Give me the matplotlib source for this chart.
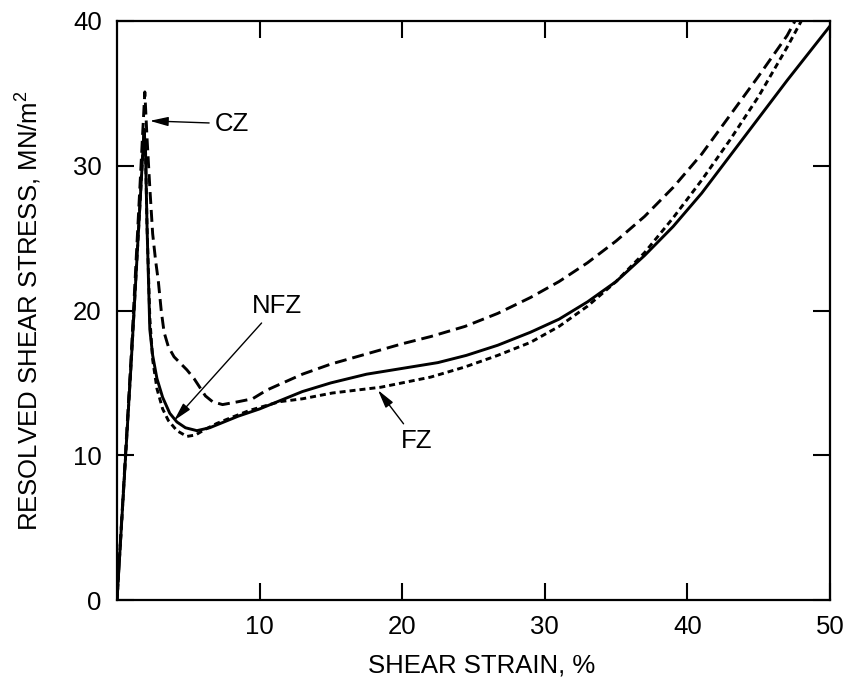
import numpy as np
import matplotlib
matplotlib.use("Agg")
import matplotlib.pyplot as plt

plt.rcParams['font.family'] = ['Liberation Sans', 'DejaVu Sans']
plt.rcParams['lines.scale_dashes'] = False

# ---------------- data ----------------
# NFZ (solid)
nfz_x = [0, 1.0, 1.9, 2.0, 2.1, 2.3, 2.5, 2.8, 3.2, 3.7, 4.2, 4.8, 5.6, 6.5, 7.5, 8.5,
         10, 11.5, 13, 15, 17.5, 20, 22.5, 24.5, 26.7, 29, 31, 33, 35, 37, 39, 41,
         43, 45, 47, 49, 50]
nfz_y = [0, 16.5, 32.5, 31, 26, 18.7, 16.9, 15.3, 14.0, 12.9, 12.3, 11.9, 11.7, 11.9,
         12.3, 12.7, 13.2, 13.8, 14.4, 15.0, 15.6, 16.0, 16.4, 16.9, 17.6, 18.5, 19.4,
         20.6, 22.0, 23.8, 25.8, 28.1, 30.7, 33.3, 35.9, 38.4, 39.65]

# FZ (short dashes)
fz_x = [0, 1.0, 1.9, 2.0, 2.1, 2.3, 2.5, 2.8, 3.2, 3.6, 4.2, 4.9, 5.5, 6.2, 7, 8, 9.3,
        11.4, 13, 15.1, 18.5, 20, 22, 24.4, 26.7, 29, 31, 33, 35, 37, 39, 41, 43,
        45, 47, 48.1]
fz_y = [0, 16.5, 32.5, 31, 26, 19.5, 16.6, 14.6, 13.2, 12.4, 11.7, 11.3, 11.4, 11.8,
        12.2, 12.6, 13.1, 13.7, 13.9, 14.3, 14.7, 15.0, 15.4, 16.1, 16.9, 17.8, 18.9,
        20.3, 22.0, 24.0, 26.4, 29.0, 31.8, 34.8, 38.2, 40.2]

# CZ (long dashes)
cz_x = [0, 1.0, 1.95, 2.1, 2.3, 2.5, 2.7, 2.9, 3.1, 3.3, 3.6, 4.0, 4.5, 4.9, 5.4, 5.8,
        6.2, 6.7, 7.4, 8.5, 9.5, 10.5, 13, 15, 17.5, 20, 22, 24.4, 26.7, 29, 31, 33,
        35, 37, 39, 41, 43, 45, 47, 47.6]
cz_y = [0, 17, 35.1, 32, 28.5, 25.3, 23.5, 22.0, 20.0, 18.5, 17.5, 16.8, 16.3, 15.9,
        15.3, 14.7, 14.1, 13.7, 13.5, 13.7, 13.9, 14.5, 15.6, 16.3, 17.0, 17.7, 18.2,
        18.9, 19.8, 20.9, 22.0, 23.3, 24.8, 26.5, 28.5, 30.8, 33.5, 36.2, 39.0, 40.1]

x_ticks = [10, 20, 30, 40, 50]
y_ticks = [0, 10, 20, 30, 40]

# ---------------- plot ----------------
fig = plt.figure(figsize=(8.51, 6.90), dpi=100)
ax = fig.add_axes([0.1375, 0.1304, 0.8378, 0.8392])

ax.plot(nfz_x, nfz_y, color='black', lw=2.1)
ax.plot(fz_x, fz_y, color='black', lw=2.1, dashes=(4.3, 2.9))
ax.plot(cz_x, cz_y, color='black', lw=2.1, dashes=(8.6, 4.3))

ax.set_xlim(0, 50)
ax.set_ylim(0, 40)
ax.set_xticks(x_ticks)
ax.set_yticks(y_ticks)
ax.tick_params(direction='in', length=12, width=1.5, labelsize=18.5, pad=11,
               top=True, right=True)
for s in ax.spines.values():
    s.set_linewidth(1.6)

ax.set_xlabel('SHEAR STRAIN, %', fontsize=18.5)
ax.set_ylabel(r'RESOLVED SHEAR STRESS, MN/m$^{\mathregular{2}}$', fontsize=18.5)
ax.xaxis.set_label_coords(0.512, -0.093)
ax.yaxis.set_label_coords(-0.104, 0.5)

arrow = dict(arrowstyle='-|>,head_length=0.6,head_width=0.15', color='black',
             lw=1.0, shrinkA=2, shrinkB=0)
ax.annotate('CZ', xy=(2.3, 33.1), xytext=(6.85, 32.9), fontsize=18.5,
            ha='left', va='center', arrowprops=arrow)
ax.annotate('NFZ', xy=(4.0, 12.4), xytext=(11.2, 20.3), fontsize=18.5,
            ha='center', va='center', arrowprops=arrow)
ax.annotate('FZ', xy=(18.3, 14.5), xytext=(21.0, 11.0), fontsize=18.5,
            ha='center', va='center', arrowprops=arrow)

plt.savefig('out.png', dpi=100)
